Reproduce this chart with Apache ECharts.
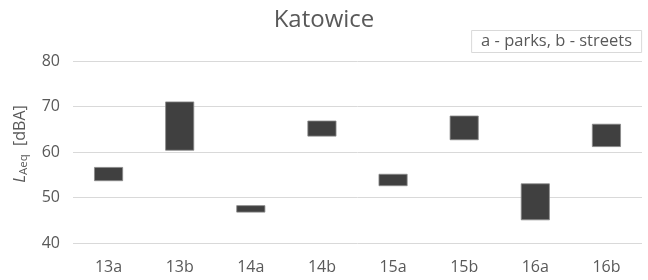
<!DOCTYPE html>
<html>
<head>
<meta charset="utf-8">
<script src="https://cdn.jsdelivr.net/npm/echarts@6/dist/echarts.min.js"></script>
<style>
  html, body { margin: 0; padding: 0; background: #fff; }
  #chart { width: 648px; height: 280px; }
</style>
</head>
<body>
<div id="chart"></div>
<script>
const categories = ['13a', '13b', '14a', '14b', '15a', '15b', '16a', '16b']
const lower = [53.6, 60.3, 46.7, 63.4, 52.5, 62.6, 45.0, 61.1]
const upper = [56.7, 71.1, 48.3, 66.9, 55.2, 68.0, 53.1, 66.2]
const yTicks = [40, 50, 60, 70, 80]

const font = 'Open Sans'
const grey = '#595959'

const chart = echarts.init(document.getElementById('chart'))

const option = {
  animation: false,
  title: [
    {
      text: 'Katowice',
      left: 'center',
      top: 3,
      textStyle: { fontFamily: font, fontSize: 24, fontWeight: 'normal', color: grey }
    },
    {
      text: 'a - parks, b - streets',
      right: 6,
      top: 30,
      padding: [3, 10, 3, 10],
      borderColor: '#d9d9d9',
      borderWidth: 1,
      textStyle: { fontFamily: font, fontSize: 16.5, fontWeight: 'normal', color: grey }
    }
  ],
  grid: { left: 73, right: 6, top: 61, bottom: 37 },
  xAxis: {
    type: 'category',
    data: categories,
    axisLine: { show: false },
    axisTick: { show: false },
    axisLabel: { fontFamily: font, fontSize: 16, color: grey, margin: 16 }
  },
  yAxis: {
    type: 'value',
    min: yTicks[0],
    max: yTicks[yTicks.length - 1],
    interval: 10,
    name: '{i|L}{s|Aeq}{n|  [dBA]}',
    nameLocation: 'middle',
    nameGap: 43,
    nameTextStyle: {
      padding: [0, 0, 0, 16],
      rich: {
        i: { fontFamily: font, fontSize: 16, fontStyle: 'italic', color: grey },
        s: { fontFamily: font, fontSize: 11.5, color: grey, padding: [8, 0, 0, 0] },
        n: { fontFamily: font, fontSize: 16, color: grey }
      }
    },
    axisLine: { show: false },
    axisTick: { show: false },
    axisLabel: { fontFamily: font, fontSize: 16, color: grey, margin: 13 },
    splitLine: { lineStyle: { color: '#d9d9d9', width: 1 } }
  },
  series: [
    {
      type: 'bar',
      stack: 'range',
      data: lower,
      itemStyle: { color: 'transparent' },
      barWidth: 29,
      silent: true
    },
    {
      type: 'bar',
      stack: 'range',
      data: upper.map((v, i) => +(v - lower[i]).toFixed(2)),
      barWidth: 29,
      itemStyle: { color: '#404040', borderColor: '#8a8a8a', borderWidth: 0.8 }
    }
  ]
}

chart.setOption(option)
</script>
</body>
</html>
